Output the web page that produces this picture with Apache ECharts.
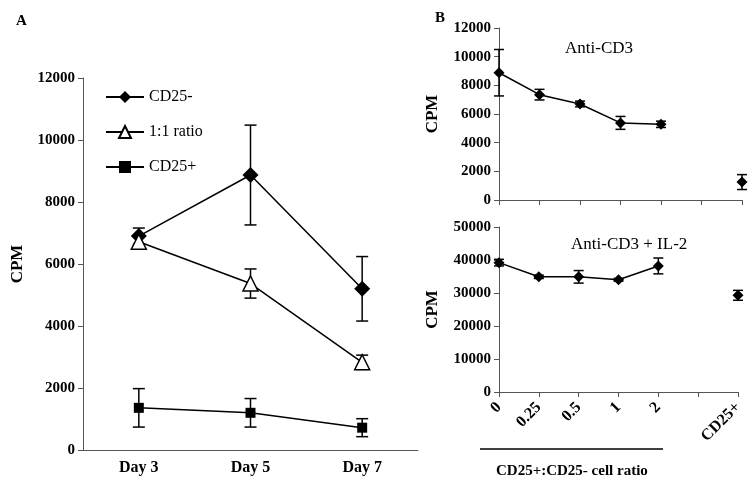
<!DOCTYPE html>
<html>
<head>
<meta charset="utf-8">
<title>CPM</title>
<script src="https://cdn.jsdelivr.net/npm/echarts@6/dist/echarts.min.js"></script>
</head>
<body style="margin:0">
<div id="main" style="width:755px;height:481px;"></div>
<script>
// panel A
var days = ['Day 3', 'Day 5', 'Day 7'];
var cd25Neg = [6900, 8870, 5200];
var cd25NegSd = [260, 1610, 1040];
var ratio11 = [6720, 5370, 2830];
var ratio11Sd = [150, 470, 230];
var cd25Pos = [1360, 1200, 720];
var cd25PosSd = [620, 460, 290];

// panel B
var ratios = ['0', '0.25', '0.5', '1', '2', '', 'CD25+'];
var antiCD3 = [8880, 7350, 6700, 5380, 5280, '-', 1250];
var antiCD3Sd = [1620, 370, 200, 450, 220, '-', 520];
var antiIL2 = [39200, 34900, 34900, 34000, 38200, '-', 29300];
var antiIL2Sd = [1000, 500, 1900, 400, 2400, '-', 1500];

var serif = 'Liberation Serif';
var axisGray = '#555';

function errData(mean, sd) {
  var out = [];
  for (var i = 0; i < mean.length; i++) {
    if (mean[i] === '-') continue;
    out.push([i, mean[i] - sd[i], mean[i] + sd[i]]);
  }
  return out;
}

function errRender(cap) {
  return function (params, api) {
    var x = api.value(0);
    var lo = api.coord([x, api.value(1)]);
    var hi = api.coord([x, api.value(2)]);
    var st = { stroke: '#000', lineWidth: 1.5 };
    return {
      type: 'group',
      children: [
        { type: 'line', shape: { x1: lo[0], y1: lo[1], x2: hi[0], y2: hi[1] }, style: st },
        { type: 'line', shape: { x1: lo[0] - cap, y1: lo[1], x2: lo[0] + cap, y2: lo[1] }, style: st },
        { type: 'line', shape: { x1: hi[0] - cap, y1: hi[1], x2: hi[0] + cap, y2: hi[1] }, style: st }
      ]
    };
  };
}

function errSeries(mean, sd, idx, cap) {
  return {
    type: 'custom',
    xAxisIndex: idx,
    yAxisIndex: idx,
    renderItem: errRender(cap),
    encode: { x: 0, y: [1, 2] },
    data: errData(mean, sd),
    silent: true,
    z: 1
  };
}

var tickLabel = {
  fontFamily: serif, fontWeight: 'bold', fontSize: 15, color: '#000',
  formatter: function (v) { return String(v); }
};
var axisName = { fontFamily: serif, fontWeight: 'bold', fontSize: 17, color: '#000' };

function yAxis(idx, max, interval, gap) {
  return {
    type: 'value', gridIndex: idx, min: 0, max: max, interval: interval,
    name: 'CPM', nameLocation: 'middle', nameGap: gap, nameTextStyle: axisName,
    axisLine: { show: true, lineStyle: { color: axisGray } },
    axisTick: { show: true, length: 5, lineStyle: { color: axisGray } },
    axisLabel: tickLabel,
    splitLine: { show: false }
  };
}

function bAxis(idx, showLabels) {
  return {
    type: 'category', gridIndex: idx, data: ratios, boundaryGap: false,
    axisLine: { lineStyle: { color: axisGray } },
    axisTick: { length: 5, interval: 0, lineStyle: { color: axisGray } },
    axisLabel: showLabels ? {
      interval: 0, rotate: 45, fontFamily: serif, fontWeight: 'bold', fontSize: 16, color: '#000', margin: 13
    } : { show: false }
  };
}

var titleStyle = function (size, weight) {
  return { fontFamily: serif, fontWeight: weight, fontSize: size, color: '#000' };
};

var chart = echarts.init(document.getElementById('main'));
chart.setOption({
  animation: false,
  backgroundColor: '#fff',
  title: [
    { text: 'A', left: 11, top: 9, textStyle: titleStyle(15, 'bold') },
    { text: 'B', left: 430, top: 6, textStyle: titleStyle(15, 'bold') },
    { text: 'Anti-CD3', left: 560, top: 35, textStyle: titleStyle(17, 'normal') },
    { text: 'Anti-CD3 + IL-2', left: 566, top: 231, textStyle: titleStyle(17, 'normal') },
    { text: 'CD25+:CD25- cell ratio', left: 491, top: 459, textStyle: titleStyle(15, 'bold') }
  ],
  legend: {
    orient: 'vertical', left: 100, top: 84, itemWidth: 38, itemHeight: 15, itemGap: 19,
    textStyle: { fontFamily: serif, fontSize: 16, color: '#000' },
    data: ['CD25-', '1:1 ratio', 'CD25+']
  },
  grid: [
    { left: 83, top: 78, width: 335, height: 372 },
    { left: 499, top: 28, width: 243, height: 172 },
    { left: 499, top: 227, width: 239, height: 165 }
  ],
  graphic: [
    { type: 'line', shape: { x1: 480, y1: 449, x2: 663, y2: 449 }, style: { stroke: '#000', lineWidth: 1.5 } }
  ],
  xAxis: [
    {
      type: 'category', gridIndex: 0, data: days,
      axisLine: { lineStyle: { color: axisGray } },
      axisTick: { length: 6, lineStyle: { color: axisGray } },
      axisLabel: { fontFamily: serif, fontWeight: 'bold', fontSize: 16, color: '#000', margin: 10 }
    },
    bAxis(1, false),
    bAxis(2, true)
  ],
  yAxis: [
    yAxis(0, 12000, 2000, 57),
    yAxis(1, 12000, 2000, 58),
    yAxis(2, 50000, 10000, 58)
  ],
  series: [
    errSeries(cd25Neg, cd25NegSd, 0, 6),
    errSeries(ratio11, ratio11Sd, 0, 6),
    errSeries(cd25Pos, cd25PosSd, 0, 6),
    {
      name: 'CD25-', type: 'line', data: cd25Neg, symbol: 'diamond', symbolSize: 16,
      lineStyle: { color: '#000', width: 1.5 }, itemStyle: { color: '#000' }, z: 3
    },
    {
      name: '1:1 ratio', type: 'line', data: ratio11, symbol: 'triangle', symbolSize: 15,
      lineStyle: { color: '#000', width: 1.5 }, itemStyle: { color: '#fff', borderColor: '#000', borderWidth: 1.5 }, z: 3
    },
    {
      name: 'CD25+', type: 'line', data: cd25Pos, symbol: 'rect', symbolSize: 10,
      lineStyle: { color: '#000', width: 1.5 }, itemStyle: { color: '#000' }, z: 3
    },
    errSeries(antiCD3, antiCD3Sd, 1, 5),
    {
      type: 'line', xAxisIndex: 1, yAxisIndex: 1, data: antiCD3, symbol: 'diamond', symbolSize: 11,
      lineStyle: { color: '#000', width: 1.5 }, itemStyle: { color: '#000' }, z: 3
    },
    errSeries(antiIL2, antiIL2Sd, 2, 5),
    {
      type: 'line', xAxisIndex: 2, yAxisIndex: 2, data: antiIL2, symbol: 'diamond', symbolSize: 11,
      lineStyle: { color: '#000', width: 1.5 }, itemStyle: { color: '#000' }, z: 3
    }
  ]
});
</script>
</body>
</html>
